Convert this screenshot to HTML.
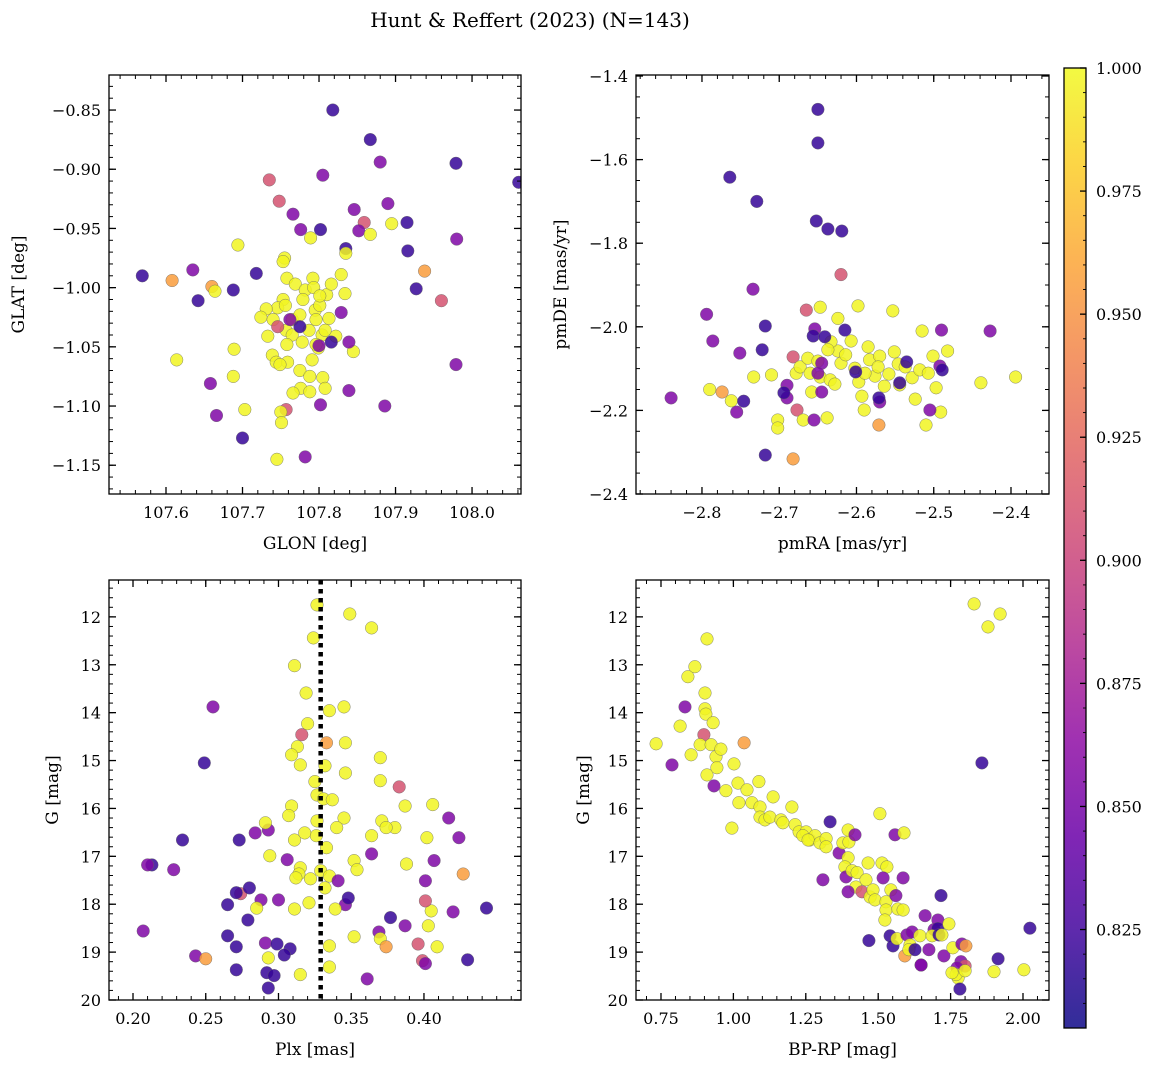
<!DOCTYPE html>
<html><head><meta charset="utf-8"><title>Hunt & Reffert (2023)</title>
<style>
html,body{margin:0;padding:0;background:#fff;}
svg{display:block;font-family:"DejaVu Serif","Liberation Serif",serif;}
</style></head>
<body>
<svg id="fig" width="1161" height="1068" viewBox="0 0 1161 1068" xmlns="http://www.w3.org/2000/svg">
<rect width="1161" height="1068" fill="#fff"/>
<text x="530" y="27" font-size="20" text-anchor="middle">Hunt &amp; Reffert (2023) (N=143)</text>
</svg>
<script>
// ---- Panel 1: GLON vs GLAT ----
const glon=[107.818,107.867,107.880,107.979,108.061,107.735,107.805,107.748,107.766,107.890,107.895,107.915,107.846,107.859,107.852,107.776,107.802,107.789,107.867,107.980,107.694,107.835,107.835,107.916,107.569,107.608,107.635,107.718,107.938,107.755,107.642,107.660,107.664,107.688,107.927,107.960,107.614,107.689,107.688,107.658,107.666,107.703,107.700,107.745,107.782,107.757,107.750,107.751,107.802,107.839,107.886,107.979,107.845,107.839,107.829,107.834,107.829,
107.753,107.758,107.769,107.782,107.792,107.793,107.779,107.753,107.746,107.731,107.724,107.740,107.765,107.775,107.795,107.801,107.810,107.816,107.801,107.757,107.765,107.787,107.796,107.804,107.813,107.822,107.778,107.758,107.739,107.744,107.759,107.791,107.799,107.796,107.775,107.788,107.805,107.808,107.776,107.766,107.788,107.749,107.733,107.756,107.808,
107.762,107.775,107.746,107.816,107.800];
const glat=[-0.850,-0.875,-0.894,-0.895,-0.911,-0.909,-0.905,-0.927,-0.938,-0.929,-0.946,-0.945,-0.934,-0.945,-0.952,-0.951,-0.951,-0.958,-0.955,-0.959,-0.964,-0.967,-0.971,-0.969,-0.990,-0.994,-0.985,-0.988,-0.986,-0.975,-1.011,-0.999,-1.003,-1.002,-1.001,-1.011,-1.061,-1.052,-1.075,-1.081,-1.108,-1.103,-1.127,-1.145,-1.143,-1.103,-1.105,-1.114,-1.099,-1.087,-1.100,-1.065,-1.054,-1.046,-1.021,-1.005,-0.989,
-0.978,-0.992,-0.997,-1.002,-0.992,-1.000,-1.010,-1.010,-1.017,-1.018,-1.025,-1.027,-1.027,-1.023,-1.019,-1.015,-1.006,-0.997,-1.007,-1.036,-1.040,-1.036,-1.027,-1.040,-1.026,-1.041,-1.046,-1.048,-1.057,-1.063,-1.063,-1.061,-1.051,-1.048,-1.070,-1.075,-1.076,-1.085,-1.085,-1.089,-1.088,-1.065,-1.041,-1.015,-1.036,
-1.027,-1.033,-1.033,-1.046,-1.049];
const probTL=[0.82,0.82,0.855,0.82,0.82,0.91,0.855,0.91,0.855,0.855,0.998,0.82,0.855,0.91,0.855,0.855,0.82,0.998,0.998,0.855,0.998,0.82,0.998,0.82,0.82,0.955,0.855,0.82,0.955,0.998,0.82,0.955,0.998,0.82,0.82,0.91,0.998,0.998,0.998,0.855,0.855,0.998,0.82,0.998,0.855,0.91,0.998,0.998,0.855,0.855,0.855,0.855,0.998,0.855,0.855,0.998,0.998,
0.998,0.998,0.998,0.998,0.998,0.998,0.998,0.998,0.998,0.998,0.998,0.998,0.998,0.998,0.998,0.998,0.998,0.998,0.998,0.998,0.998,0.998,0.998,0.998,0.998,0.998,0.998,0.998,0.998,0.998,0.998,0.998,0.998,0.998,0.998,0.998,0.998,0.998,0.998,0.998,0.998,0.998,0.998,0.998,0.998,
0.855,0.82,0.91,0.82,0.855];

// ---- Panel 2: pmRA vs pmDE ----
const pmra=[-2.650,-2.650,-2.764,-2.729,-2.652,-2.637,-2.619,-2.620,-2.734,-2.794,-2.665,-2.647,-2.598,-2.553,-2.427,-2.718,-2.624,-2.654,-2.515,-2.490,-2.786,-2.840,-2.790,-2.774,-2.762,-2.755,-2.751,-2.722,-2.718,-2.682,-2.746,-2.733,-2.710,-2.690,-2.682,
-2.678,-2.673,-2.663,-2.660,-2.650,-2.647,-2.658,-2.690,-2.694,-2.677,-2.702,-2.702,-2.669,-2.655,-2.638,-2.645,-2.634,-2.624,-2.620,-2.614,-2.607,-2.602,-2.597,-2.593,-2.590,-2.585,-2.583,-2.576,-2.570,-2.564,-2.558,-2.551,-2.546,-2.544,-2.537,-2.528,-2.524,-2.518,-2.507,-2.501,-2.497,-2.491,-2.482,-2.510,-2.439,-2.394,-2.571,-2.570,-2.571,-2.572,-2.589,-2.628,-2.633,-2.637,-2.645,-2.656,-2.641,-2.544,-2.535,-2.505,-2.492,-2.489,-2.650,-2.615,-2.601];
const pmde=[-1.480,-1.560,-1.642,-1.700,-1.747,-1.766,-1.771,-1.875,-1.910,-1.970,-1.960,-1.953,-1.950,-1.962,-2.010,-1.998,-1.980,-2.005,-2.010,-2.008,-2.034,-2.170,-2.150,-2.156,-2.177,-2.204,-2.063,-2.055,-2.307,-2.316,-2.178,-2.120,-2.115,-2.140,-2.072,
-2.111,-2.096,-2.075,-2.111,-2.082,-2.120,-2.156,-2.170,-2.158,-2.199,-2.223,-2.242,-2.223,-2.223,-2.218,-2.156,-2.127,-2.058,-2.087,-2.067,-2.034,-2.099,-2.132,-2.166,-2.199,-2.048,-2.079,-2.118,-2.070,-2.142,-2.113,-2.060,-2.089,-2.139,-2.096,-2.122,-2.173,-2.103,-2.111,-2.070,-2.146,-2.204,-2.058,-2.235,-2.134,-2.120,-2.235,-2.180,-2.170,-2.096,-2.111,-2.137,-2.036,-2.055,-2.087,-2.022,-2.024,-2.134,-2.084,-2.199,-2.094,-2.103,-2.111,-2.008,-2.108];
const probTR=[0.82,0.82,0.82,0.82,0.82,0.82,0.82,0.91,0.855,0.855,0.91,0.998,0.998,0.998,0.855,0.82,0.998,0.855,0.998,0.855,0.855,0.855,0.998,0.955,0.998,0.855,0.855,0.82,0.82,0.955,0.82,0.998,0.998,0.855,0.91,
0.998,0.998,0.998,0.998,0.998,0.998,0.998,0.855,0.82,0.91,0.998,0.998,0.998,0.855,0.998,0.855,0.998,0.998,0.998,0.998,0.998,0.998,0.998,0.998,0.998,0.998,0.998,0.998,0.998,0.998,0.998,0.998,0.998,0.998,0.998,0.998,0.998,0.998,0.998,0.998,0.998,0.998,0.998,0.998,0.998,0.998,0.955,0.855,0.82,0.998,0.998,0.998,0.998,0.998,0.855,0.82,0.82,0.82,0.82,0.855,0.855,0.82,0.855,0.82,0.82];

// ---- Panel 3: Plx vs G ----
const plx=[0.3265,0.349,0.364,0.324,0.311,0.319,0.345,0.335,0.320,0.255,0.316,0.333,0.346,0.249,0.313,0.309,0.370,0.315,0.332,0.325,0.346,0.370,0.383,0.3265,0.331,0.337,0.309,0.387,0.406,0.417,0.424,0.3265,0.345,0.371,0.380,0.374,0.364,0.364,0.293,0.284,0.291,0.307,0.273,0.234,0.326,0.340,0.311,0.318,0.333,0.402,0.294,0.306,0.315,0.314,0.312,0.329,0.335,0.352,0.354,0.388,0.407,0.427,0.213,0.210,0.228,0.341,0.401,0.274,0.271,0.280,0.288,0.300,0.321,0.346,0.348,0.285,0.311,0.339,0.265,0.405,0.420,0.443,0.401,0.377,0.387,0.403,0.369,0.279,0.265,0.207,0.291,0.299,0.308,0.335,0.352,0.370,0.374,0.396,0.409,0.271,0.243,0.250,0.293,0.304,0.399,0.401,0.430,0.271,0.292,0.297,0.315,0.335,0.361,0.293,0.322,0.332];
const gPlx=[11.75,11.94,12.23,12.44,13.02,13.59,13.88,13.96,14.23,13.88,14.46,14.63,14.63,15.05,14.71,14.88,14.94,15.09,15.11,15.44,15.26,15.42,15.55,15.72,15.80,15.82,15.95,15.95,15.92,16.20,16.61,16.26,16.20,16.26,16.40,16.40,16.57,16.95,16.45,16.51,16.30,16.15,16.66,16.66,16.57,16.40,16.66,16.51,16.82,16.61,16.99,17.07,17.24,17.37,17.45,17.30,17.41,17.09,17.28,17.16,17.09,17.37,17.18,17.18,17.28,17.51,17.51,17.78,17.76,17.66,17.91,17.91,17.97,18.01,17.87,18.08,18.10,18.10,18.01,18.14,18.16,18.08,17.93,18.28,18.45,18.45,18.58,18.33,18.66,18.56,18.81,18.83,18.93,18.87,18.68,18.72,18.89,18.83,18.89,18.89,19.08,19.14,19.12,19.06,19.18,19.24,19.16,19.37,19.43,19.49,19.47,19.31,19.56,19.75,17.47,17.66];
const probBL=[0.998,0.998,0.998,0.998,0.998,0.998,0.998,0.998,0.998,0.855,0.91,0.955,0.998,0.82,0.998,0.998,0.998,0.998,0.998,0.998,0.998,0.998,0.91,0.998,0.998,0.998,0.998,0.998,0.998,0.855,0.855,0.998,0.998,0.998,0.998,0.998,0.998,0.855,0.855,0.855,0.998,0.998,0.82,0.82,0.998,0.998,0.998,0.998,0.998,0.998,0.998,0.855,0.998,0.998,0.998,0.998,0.998,0.998,0.998,0.998,0.855,0.955,0.82,0.855,0.855,0.855,0.855,0.91,0.82,0.82,0.855,0.855,0.998,0.855,0.82,0.998,0.998,0.998,0.82,0.998,0.855,0.82,0.91,0.82,0.855,0.998,0.855,0.82,0.82,0.855,0.855,0.82,0.82,0.998,0.998,0.998,0.955,0.91,0.998,0.82,0.855,0.955,0.998,0.82,0.91,0.855,0.82,0.82,0.82,0.82,0.998,0.998,0.855,0.82,0.998,0.998];
const plxLine=[0.329];

// ---- Panel 4: BP-RP vs G ----
const bprp=[0.733,0.788,0.816,0.833,0.843,0.867,0.902,0.902,0.905,0.909,0.930,0.898,0.854,0.885,0.923,0.940,0.957,0.909,0.933,0.943,0.974,1.002,1.016,1.019,0.995,1.037,1.064,1.047,1.088,1.092,1.092,1.109,1.126,1.137,1.164,1.171,1.202,1.213,1.227,1.251,1.240,1.264,1.282,1.258,1.299,1.320,1.320,1.334,1.365,1.378,1.399,1.396,1.420,1.309,1.396,1.385,1.389,1.410,1.427,1.423,1.396,1.444,1.458,1.472,1.482,1.465,1.489,1.513,1.527,1.530,1.517,1.544,1.527,1.561,1.568,1.586,1.586,1.558,1.468,1.541,1.523,1.551,1.565,1.599,1.610,1.592,1.606,1.627,1.617,1.662,1.644,1.648,1.675,1.693,1.706,1.706,1.686,1.710,1.727,1.758,1.786,1.789,1.800,1.803,1.772,1.648,1.720,1.744,1.717,1.776,1.769,1.782,1.800,1.755,1.900,1.914,2.003,2.024,1.831,1.879,1.921,1.858,1.506,1.589];
const gBp=[14.65,15.09,14.28,13.88,13.25,13.04,13.59,13.92,14.03,12.46,14.21,14.46,14.88,14.67,14.67,14.92,14.76,15.30,15.53,15.15,15.63,15.07,15.47,15.88,16.41,14.63,15.88,15.61,15.44,15.97,16.18,16.24,16.18,15.76,16.24,16.30,15.97,16.34,16.49,16.49,16.57,16.66,16.57,16.66,16.72,16.63,16.80,16.28,16.93,16.72,16.70,16.45,16.55,17.49,17.03,17.22,17.43,17.30,17.34,17.64,17.74,17.74,17.49,17.85,17.70,17.14,17.91,17.14,17.95,17.22,17.45,17.70,18.12,17.82,18.10,18.12,17.45,16.55,18.76,18.66,18.33,18.87,18.72,18.64,18.85,19.08,18.95,18.95,18.58,18.24,18.66,19.27,18.95,18.53,18.33,18.51,18.66,18.64,19.08,18.91,19.20,18.83,19.29,18.87,19.33,19.27,18.64,18.41,17.82,19.54,19.47,19.77,19.39,19.43,19.41,19.14,19.37,18.50,11.73,12.21,11.94,15.05,16.11,16.51];
const probBR=[0.998,0.855,0.998,0.855,0.998,0.998,0.998,0.998,0.998,0.998,0.998,0.91,0.998,0.998,0.998,0.998,0.998,0.998,0.855,0.998,0.998,0.998,0.998,0.998,0.998,0.955,0.998,0.998,0.998,0.998,0.998,0.998,0.998,0.998,0.998,0.998,0.998,0.998,0.998,0.998,0.998,0.998,0.998,0.998,0.998,0.998,0.998,0.82,0.855,0.998,0.998,0.998,0.855,0.855,0.998,0.998,0.855,0.998,0.998,0.998,0.855,0.91,0.998,0.998,0.998,0.998,0.998,0.998,0.998,0.998,0.855,0.998,0.998,0.855,0.998,0.998,0.855,0.855,0.82,0.82,0.998,0.82,0.998,0.855,0.998,0.955,0.998,0.82,0.855,0.855,0.998,0.855,0.855,0.855,0.855,0.82,0.998,0.82,0.855,0.998,0.855,0.855,0.91,0.955,0.855,0.855,0.998,0.998,0.82,0.998,0.998,0.82,0.998,0.998,0.998,0.82,0.998,0.82,0.998,0.998,0.998,0.82,0.998,0.998];

// colorbar
const cbTicks=[0.825,0.850,0.875,0.900,0.925,0.950,0.975,1.000];
const cbMin=0.805, cbMax=1.0;

const NS='http://www.w3.org/2000/svg';
const svg=document.getElementById('fig');
function el(tag,attrs,parent){const e=document.createElementNS(NS,tag);for(const k in attrs)e.setAttribute(k,attrs[k]);(parent||svg).appendChild(e);return e;}

const stops=[[0,[13,8,135]],[0.1,[65,4,157]],[0.2,[106,0,168]],[0.3,[143,13,164]],[0.4,[177,42,144]],[0.5,[204,71,120]],[0.6,[225,100,98]],[0.7,[242,132,75]],[0.8,[252,166,54]],[0.9,[252,206,37]],[1,[240,249,33]]];
function plasma(t){t=Math.max(0,Math.min(1,t));for(let i=1;i<stops.length;i++){if(t<=stops[i][0]){const a=stops[i-1],b=stops[i];const f=(t-a[0])/(b[0]-a[0]);const c=a[1].map((v,j)=>Math.round(v+(b[1][j]-v)*f));return `rgb(${c[0]},${c[1]},${c[2]})`;}}return 'rgb(240,249,33)';}
function pc(p){return plasma((p-cbMin)/(cbMax-cbMin));}
function fmtMinus(s){return s.replace('-','\u2212');}

function drawPanel(cfg,xs,ys,ps){
  const g=el('g',{});
  
  
  const sx=v=>cfg.x0+(v-cfg.xmin)/(cfg.xmax-cfg.xmin)*cfg.w;
  const sy=v=>cfg.y0+cfg.h-(v-cfg.ymin)/(cfg.ymax-cfg.ymin)*cfg.h;
  const syI=cfg.invert?(v=>cfg.y0+(v-cfg.ymax)/(cfg.ymin-cfg.ymax)*cfg.h):sy;
  const clip=el('clipPath',{id:'clip-'+cfg.name},g);
  el('rect',{x:cfg.x0,y:cfg.y0,width:cfg.w,height:cfg.h},clip);
  const pts=el('g',{'clip-path':'url(#clip-'+cfg.name+')'},g);
  for(let i=0;i<xs.length;i++){
    const c=el('circle',{cx:sx(xs[i]).toFixed(1),cy:syI(ys[i]).toFixed(1),r:6.3,fill:pc(ps[i]),'fill-opacity':0.85,stroke:'#666','stroke-width':0.4},pts);
    
    
  }
  if(cfg.vline){for(const v of cfg.vline){const l=el('line',{x1:sx(v),x2:sx(v),y1:cfg.y0,y2:cfg.y0+cfg.h,stroke:'#000','stroke-width':4.5,'stroke-dasharray':'4.5,4.5'},g);
    
    }}
  el('rect',{x:cfg.x0,y:cfg.y0,width:cfg.w,height:cfg.h,fill:'none',stroke:'#000','stroke-width':1.3},g);
  const eps=1e-9;
  const yl=Math.min(cfg.ymin,cfg.ymax), yh=Math.max(cfg.ymin,cfg.ymax);
  for(let v=Math.ceil(cfg.xmin/cfg.xminor-eps)*cfg.xminor;v<=cfg.xmax+eps;v+=cfg.xminor){const X=sx(v);
    el('line',{x1:X,x2:X,y1:cfg.y0+cfg.h,y2:cfg.y0+cfg.h-4,stroke:'#000','stroke-width':1},g);
    el('line',{x1:X,x2:X,y1:cfg.y0,y2:cfg.y0+4,stroke:'#000','stroke-width':1},g);}
  for(let v=Math.ceil(yl/cfg.yminor-eps)*cfg.yminor;v<=yh+eps;v+=cfg.yminor){const Y=syI(v);
    el('line',{x1:cfg.x0,x2:cfg.x0+4,y1:Y,y2:Y,stroke:'#000','stroke-width':1},g);
    el('line',{x1:cfg.x0+cfg.w,x2:cfg.x0+cfg.w-4,y1:Y,y2:Y,stroke:'#000','stroke-width':1},g);}
  for(const v of cfg.xticks){const X=sx(v);
    el('line',{x1:X,x2:X,y1:cfg.y0+cfg.h,y2:cfg.y0+cfg.h-7,stroke:'#000','stroke-width':1.3},g);
    el('line',{x1:X,x2:X,y1:cfg.y0,y2:cfg.y0+7,stroke:'#000','stroke-width':1.3},g);
    const t=el('text',{x:X,y:cfg.y0+cfg.h+24,'font-size':16,'text-anchor':'middle'},g);
    t.textContent=fmtMinus(v.toFixed(cfg.xdec));
    
    }
  for(const v of cfg.yticks){const Y=syI(v);
    el('line',{x1:cfg.x0,x2:cfg.x0+7,y1:Y,y2:Y,stroke:'#000','stroke-width':1.3},g);
    el('line',{x1:cfg.x0+cfg.w,x2:cfg.x0+cfg.w-7,y1:Y,y2:Y,stroke:'#000','stroke-width':1.3},g);
    const t=el('text',{x:cfg.x0-8,y:Y+6,'font-size':16,'text-anchor':'end'},g);
    t.textContent=fmtMinus(v.toFixed(cfg.ydec));
    
    }
  const xt=el('text',{x:cfg.x0+cfg.w/2,y:cfg.y0+cfg.h+55,'font-size':17,'text-anchor':'middle'},g);
  xt.textContent=cfg.xlabel;
  
  
  const yt=el('text',{x:0,y:0,'font-size':17,'text-anchor':'middle',transform:`translate(${cfg.ylx},${cfg.y0+cfg.h/2}) rotate(-90)`},g);
  yt.textContent=cfg.ylabel;
  
  
}
function range(a,b,s){const r=[];for(let v=a;v<=b+1e-9;v+=s)r.push(Math.round(v*1000)/1000);return r;}

drawPanel({name:'panel-glon-glat',x0:109,y0:75,w:412,h:419,xmin:107.5255,xmax:108.064,ymin:-1.1743,ymax:-0.8204,
  xticks:range(107.6,108.0,0.1),yticks:range(-1.15,-0.85,0.05),xminor:0.02,yminor:0.01,xdec:1,ydec:2,xlabel:'GLON [deg]',ylabel:'GLAT [deg]',ylx:24},glon,glat,probTL);
drawPanel({name:'panel-pmra-pmde',x0:636,y0:75,w:413,h:419,xmin:-2.8854,xmax:-2.3508,ymin:-2.4,ymax:-1.3976,
  xticks:range(-2.8,-2.4,0.1),yticks:range(-2.4,-1.4,0.2),xminor:0.02,yminor:0.05,xdec:1,ydec:1,xlabel:'pmRA [mas/yr]',ylabel:'pmDE [mas/yr]',ylx:566},pmra,pmde,probTR);
drawPanel({name:'panel-plx-g',x0:109,y0:580,w:412,h:420,xmin:0.1835,xmax:0.4667,ymin:20,ymax:11.23,invert:true,vline:plxLine,
  xticks:range(0.2,0.4,0.05),yticks:range(12,20,1),xminor:0.01,yminor:0.2,xdec:2,ydec:0,xlabel:'Plx [mas]',ylabel:'G [mag]',ylx:58},plx,gPlx,probBL);
drawPanel({name:'panel-bprp-g',x0:636,y0:580,w:413,h:420,xmin:0.6637,xmax:2.0898,ymin:20,ymax:11.23,invert:true,
  xticks:range(0.75,2.0,0.25),yticks:range(12,20,1),xminor:0.05,yminor:0.2,xdec:2,ydec:0,xlabel:'BP-RP [mag]',ylabel:'G [mag]',ylx:589},bprp,gBp,probBR);

(function(){
  const x0=1064,y0=68,w=22,h=960;
  const g=el('g',{});
  
  
  const defs=el('defs',{},g);
  const lg=el('linearGradient',{id:'cbgrad',x1:0,y1:1,x2:0,y2:0},defs);
  for(let i=0;i<=20;i++){el('stop',{offset:(i/20),'stop-color':plasma(i/20),'stop-opacity':0.85},lg);}
  el('rect',{x:x0,y:y0,width:w,height:h,fill:'url(#cbgrad)',stroke:'none'},g);
  el('rect',{x:x0,y:y0,width:w,height:h,fill:'none',stroke:'#000','stroke-width':1.3},g);
  const sy=v=>y0+h-(v-cbMin)/(cbMax-cbMin)*h;
  for(let v=0.81;v<=1.0001;v+=0.005){const Y=sy(v);el('line',{x1:x0+w,x2:x0+w-3,y1:Y,y2:Y,stroke:'#000','stroke-width':0.9},g);}
  for(const v of cbTicks){const Y=sy(v);
    el('line',{x1:x0+w,x2:x0+w-6,y1:Y,y2:Y,stroke:'#000','stroke-width':1.3},g);
    const t=el('text',{x:x0+w+10,y:Y+6,'font-size':16},g);
    t.textContent=v.toFixed(3);
    
    }
})();
</script>
</body></html>
